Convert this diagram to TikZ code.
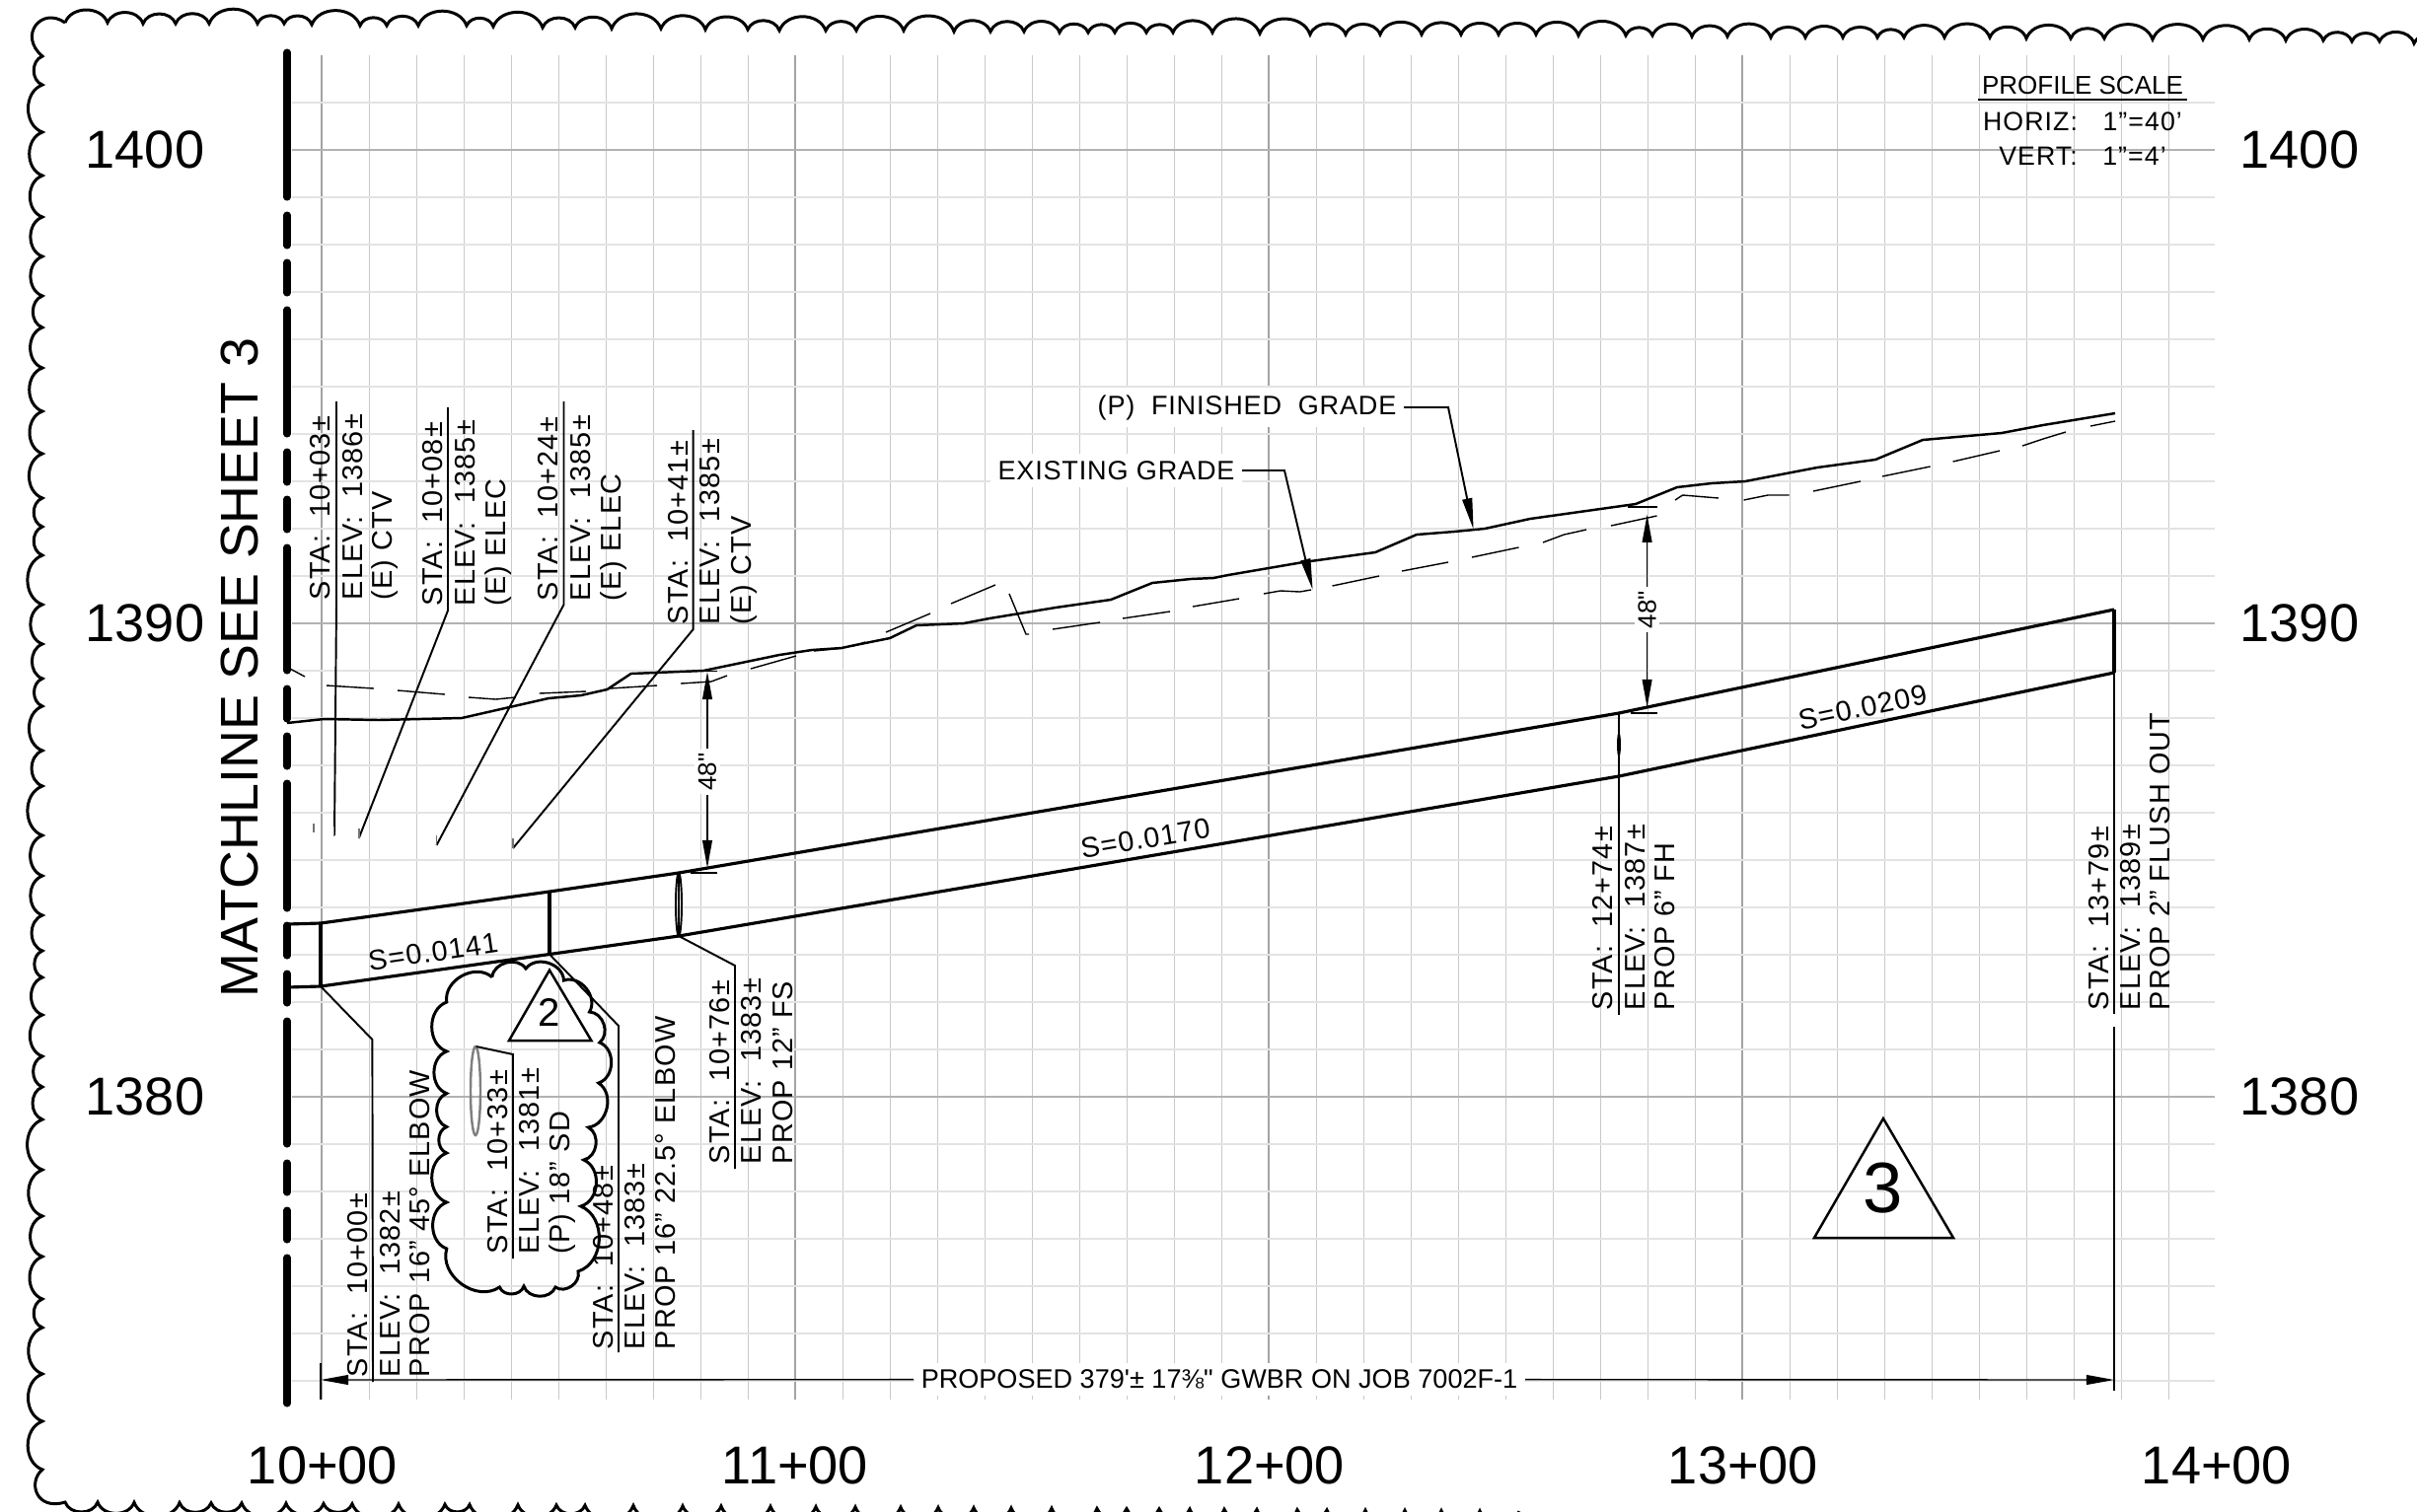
\documentclass[tikz,border=0pt]{standalone}
\usepackage{fontspec}
\usetikzlibrary{arrows.meta}
\newfontfamily\cadfont[LetterSpace=4]{Liberation Sans}
\newfontfamily\leaderfont[LetterSpace=3]{Liberation Sans}
\newfontfamily\axisfont{Liberation Sans}
\tikzset{
  minorh/.style={line width=0.5pt,color=black!11},
  minorv/.style={line width=0.25pt,color=black!21},
  majorh/.style={line width=0.5pt,color=black!30},
  majorv/.style={line width=0.35pt,color=black!36},
  scallop/.style={line width=0.85pt},
  matchline/.style={line width=2pt,line cap=round},
  pipeline/.style={line width=0.9pt},
  grade/.style={line width=0.7pt},
  existing/.style={line width=0.4pt},
  leader/.style={line width=0.55pt},
  dimline/.style={line width=0.4pt},
  tick/.style={line width=0.5pt,color=black!55},
  dimarrow/.style={line width=0.4pt,-{Triangle[length=8pt,width=2.8pt]}},
  vtext/.style={rotate=90,anchor=base west,inner sep=0pt,font=\cadfont\fontsize{8.2}{10}\selectfont},
  slabel/.style={inner sep=0pt,font=\cadfont\fontsize{8.2}{10}\selectfont},
  gradelabel/.style={fill=white,inner sep=2pt,font=\leaderfont\fontsize{7.7}{9}\selectfont},
  scalelabel/.style={anchor=base,inner sep=0pt,font=\cadfont\fontsize{7.6}{9}\selectfont},
  axislabel/.style={inner sep=0pt,font=\axisfont\fontsize{15.4}{18}\selectfont},
  dimlabel/.style={rotate=90,fill=white,inner sep=1pt,font=\axisfont\fontsize{7.4}{9}\selectfont}
}
\begin{document}
\begin{tikzpicture}[x=0.01cm,y=-0.01cm]
  \useasboundingbox (0,0) rectangle (2450,1532);
  \clip (0,0) rectangle (2450,1532);
  % grid
  \foreach \gx in {374,422,470,518,566,614,662,710,758,854,902,950,998,1046,1094,1142,1190,1238,1334,1382,1430,1478,1526,1574,1622,1670,1718,1814,1862,1910,1958,2006,2054,2102,2150,2198}
    \draw[minorv] (\gx,56) -- (\gx,1419);
  \foreach \gx in {326,806,1286,1766}
    \draw[majorv] (\gx,56) -- (\gx,1419);
  \foreach \gy in {104,200,248,296,344,392,440,488,536,584,680,728,776,824,872,920,968,1016,1064,1160,1208,1256,1304,1352,1400}
    \draw[minorh] (296,\gy) -- (2245,\gy);
  \foreach \gy in {152,632,1112}
    \draw[majorh] (296,\gy) -- (2245,\gy);
  % revision border
  \draw[scallop] (66,23)
    foreach \bx/\by in {109/23,145/24,178/24,212/24,261/24,288/24,316/25,365/26,392/26,424/26,473/26,500/27,550/28,583/28,620/29,670/29,715/30,758/30,790/31,837/31,868/31,916/31,967/32,1004/32,1038/32,1074/33,1103/33,1130/33,1162/33,1189/33,1229/33,1277/34,1328/35,1364/35,1399/35,1441/35,1481/35,1519/35,1557/35,1600/36,1648/36,1675/36,1715/37,1751/37,1795/38,1830/38,1868/38,1903/38,1930/38,1971/38,2017/38,2054/39,2099/39,2133/39,2182/40,2233/40,2280/40,2317/41,2355/41,2384/42,2412/42,2447/44,2490/48}
    {to[bend left=70,looseness=1.1] (\bx,\by)};
  \draw[scallop] (66,23) .. controls (42,6) and (18,36) .. (43,57)
    foreach \by in {86,134,178,220,260,300,332,373,417,460,505,534,563,613,653,688,716,761,797,847,888,928,964,991,1029,1071,1102,1135,1186,1233,1274,1317,1346,1393,1441,1490}
    {to[bend right=70,looseness=1.1] (43,\by)}
    .. controls (28,1502) and (36,1532) .. (66,1523)
    foreach \bx in {99,136,182,214,245,290,328,357,404,451,476,525,564,593,642,692,731,781,827,867,913,951,987,1025,1066,1112,1142,1175,1206,1241,1274,1315,1345,1384,1424,1461,1500,1540}
    {to[bend right=70,looseness=1.1] (\bx,{1523+(\bx-100)*0.0064})};
  % matchline
  \foreach \ma/\mb in {53/200,218/249,266/297,314/440,458/489,506/537,555/680,698/729,746/777,794/921,938/969,987/1017,1035/1160,1179/1209,1227/1257,1275/1423}
    \draw[matchline] (291,\ma) -- (291,\mb);
  \node[rotate=90,inner sep=0pt,font=\axisfont\fontsize{15.3}{18}\selectfont] (matchtext) at (243,677) {MATCHLINE SEE SHEET 3};
  % axis numbers
  \draw
    (147,152) node[axislabel] (elevl1400){1400}
    (147,632) node[axislabel] (elevl1390){1390}
    (147,1112) node[axislabel] (elevl1380){1380}
    (2331,152) node[axislabel] (elevr1400){1400}
    (2331,632) node[axislabel] (elevr1390){1390}
    (2331,1112) node[axislabel] (elevr1380){1380}
    (327,1486) node[axislabel] (sta10){10+00}
    (806,1486) node[axislabel] (sta11){11+00}
    (1287,1486) node[axislabel] (sta12){12+00}
    (1767,1486) node[axislabel] (sta13){13+00}
    (2247,1486) node[axislabel] (sta14){14+00};
  % finished grade
  \draw[grade] (291,733) -- (328.5,729) -- (384,730) -- (468,728) -- (556,708) -- (589,705) -- (615.5,699) -- (639.6,683) -- (713,680) -- (790,664) -- (823,659) -- (853,657) -- (867,654) -- (902,647) -- (929,634) -- (977,632) -- (1003,627) -- (1070,616) -- (1126,608) -- (1168,591) -- (1207,587) -- (1230,586) -- (1245,583) -- (1321,570) -- (1394,560) -- (1436,542) -- (1474,539) -- (1505,536) -- (1551,526) -- (1658,511) -- (1700,494) -- (1735,490) -- (1769,488) -- (1842,474) -- (1901,466) -- (1949,446) -- (2029,439) -- (2071,431) -- (2144,419);
  % existing grade
  \begin{scope}[existing]
    \draw (294,678) -- (309,686);
    \draw (331,695) -- (379,698);
    \draw (403,700) -- (451,704);
    \draw (475,707) -- (502.6,709) -- (522.5,707);
    \draw (546.6,703) -- (594,701);
    \draw (618,698) -- (666,695);
    \draw (690,693) -- (721,691) -- (737,685);
    \draw (761,678) -- (807,665);
    \draw (825,660) -- (855,657);
    \draw (865,655) -- (877,651);
    \draw (898,641) -- (943,622);
    \draw (964,612) -- (1009,593);
    \draw (1023,602) -- (1040,643) -- (1043,643);
    \draw (1067,638) -- (1115,631);
    \draw (1138,627) -- (1186,620);
    \draw (1209,615) -- (1256,607);
    \draw (1281,602) -- (1298,599) -- (1317.6,600) -- (1329,598);
    \draw (1350.5,594) -- (1398,584);
    \draw (1421,579) -- (1468,570);
    \draw (1492,565) -- (1539.5,555);
    \draw (1564,550) -- (1585.4,542) -- (1608,537);
    \draw (1633,533) -- (1679.5,523);
    \draw (1698,507) -- (1705.6,502) -- (1742,505);
    \draw (1767.6,507) -- (1792,502) -- (1813.5,502);
    \draw (1838,498) -- (1886,488);
    \draw (1908,483) -- (1956.6,473);
    \draw (1979.6,468) -- (2027,457);
    \draw (2050,452) -- (2071,445) -- (2094,438);
    \draw (2119,432) -- (2144,427);
  \end{scope}
  % pipe
  \coordinate (toppipe0) at (291,937);
  \coordinate (toppipe1) at (325,936);
  \coordinate (toppipe2) at (557,904);
  \coordinate (toppipe3) at (688,885);
  \coordinate (toppipe4) at (1641,723);
  \coordinate (toppipe5) at (2143,618);
  \coordinate (botpipe0) at (291,1001);
  \coordinate (botpipe1) at (325,1000);
  \coordinate (botpipe2) at (557,967.5);
  \coordinate (botpipe3) at (688,949);
  \coordinate (botpipe4) at (1641,787);
  \coordinate (botpipe5) at (2143,682);
  \draw[pipeline] (toppipe0) -- (toppipe1) -- (toppipe2) -- (toppipe3) -- (toppipe4) -- (toppipe5);
  \draw[pipeline] (botpipe0) -- (botpipe1) -- (botpipe2) -- (botpipe3) -- (botpipe4) -- (botpipe5);
  \draw[pipeline] (toppipe1) -- (botpipe1);
  \draw[pipeline] (toppipe2) -- (botpipe2);
  \draw[pipeline] (toppipe5) -- (botpipe5);
  \draw[leader] (toppipe3) -- (botpipe3);
  \draw[leader] (688,917) ellipse (3 and 32);
  \draw[leader] (toppipe4) -- (botpipe4);
  \fill (1641,755) ellipse (2 and 13);
  % utility crossings
  \draw[leader] (341,407) -- (341,613) -- (339,847);
  \draw[leader] (454,413) -- (454,619) -- (363.7,850);
  \draw[leader] (571.5,407) -- (571.5,613) -- (442.5,857);
  \draw[leader] (702.7,436) -- (702.7,638) -- (520,860);
  \draw[tick] (318,835) -- (318,844);
  \draw[tick] (338.5,838) -- (338.5,848);
  \draw[tick] (363.7,840) -- (363.7,850);
  \draw[tick] (442.5,847) -- (442.5,857);
  \draw[tick] (520,850) -- (520,860);
  \draw
    (334,609) node[vtext] (sta1003){STA:\ \ 10+03±}
    (367,609) node[vtext] (elev1003){ELEV:\ \ 1386±}
    (397,609) node[vtext] (type1003){(E) CTV}
    (448,615) node[vtext] (sta1008){STA:\ \ 10+08±}
    (481.5,615) node[vtext] (elev1008){ELEV:\ \ 1385±}
    (512,615) node[vtext] (type1008){(E) ELEC}
    (565.7,610) node[vtext] (sta1024){STA:\ \ 10+24±}
    (598,610) node[vtext] (elev1024){ELEV:\ \ 1385±}
    (629,610) node[vtext] (type1024){(E) ELEC}
    (697.8,634) node[vtext] (sta1041){STA:\ \ 10+41±}
    (729.5,634) node[vtext] (elev1041){ELEV:\ \ 1385±}
    (761,634) node[vtext] (type1041){(E) CTV};
  % pipe fittings
  \draw[leader] (botpipe1) -- (377.4,1054) -- (378,1401);
  \draw[leader] (botpipe2) -- (627,1040) -- (627,1371);
  \draw[leader] (botpipe3) -- (745,979) -- (745,1185);
  \draw[leader] (botpipe4) -- (1641,1029);
  \draw[leader] (botpipe5) -- (2143,1028);
  \draw[dimline] (2143,1041) -- (2143,1410);
  \draw
    (372.5,1397) node[vtext] (sta1000){STA:\ \ 10+00±}
    (405,1397) node[vtext] (elev1000){ELEV:\ \ 1382±}
    (435.6,1397) node[vtext] (prop1000){PROP 16” 45° ELBOW}
    (621,1369) node[vtext] (sta1048){STA:\ \ 10+48±}
    (653.7,1369) node[vtext] (elev1048){ELEV:\ \ 1383±}
    (684.4,1369) node[vtext] (prop1048){PROP 16” 22.5° ELBOW}
    (739,1181) node[vtext] (sta1076){STA:\ \ 10+76±}
    (771,1181) node[vtext] (elev1076){ELEV:\ \ 1383±}
    (803,1181) node[vtext] (prop1076){PROP 12” FS}
    (1634,1025) node[vtext] (sta1274){STA:\ \ 12+74±}
    (1667,1025) node[vtext] (elev1274){ELEV:\ \ 1387±}
    (1697,1025) node[vtext] (prop1274){PROP 6” FH}
    (2137,1025) node[vtext] (sta1379){STA:\ \ 13+79±}
    (2169.6,1025) node[vtext] (elev1379){ELEV:\ \ 1389±}
    (2199.5,1025) node[vtext] (prop1379){PROP 2” FLUSH OUT};
  % revision cloud
  \draw[scallop] (498.8,990.7)
    foreach \cx/\cy in {533/982,571.5/994,597.5/1026,607.8/1057,606.7/1098,596.3/1143,591.7/1176,588.7/1223,586/1289,563/1305,531/1304,506.4/1305,452.8/1266,452.8/1219,452.8/1169,452.8/1142.5,452.8/1108.6,452.8/1066,452.8/1016,498.8/990.7}
    {to[bend left=70,looseness=1.1] (\cx,\cy)};
  \draw[line width=0.7pt,color=black!50] (482,1106) ellipse (5 and 45);
  \draw[leader] (482.7,1061) -- (520,1069) -- (520,1276);
  \draw
    (514,1272) node[vtext] (sta1033){STA:\ \ 10+33±}
    (546.6,1272) node[vtext] (elev1033){ELEV:\ \ 1381±}
    (577,1272) node[vtext] (type1033){(P) 18” SD};
  % revision triangles
  \draw[line width=0.7pt] (557,983.6) -- (599.4,1055) -- (516,1055) -- cycle;
  \node[inner sep=0pt,font=\axisfont\fontsize{11.4}{13}\selectfont] (rev2) at (557,1026) {2};
  \draw[line width=0.7pt] (1909,1134) -- (1980,1255) -- (1839,1255) -- cycle;
  \node[inner sep=0pt,font=\axisfont\fontsize{20.6}{24}\selectfont] (rev3) at (1909,1205) {3};
  % slopes
  \node[slabel,rotate=8.4] (slope1) at (439,965) {S=0.0141};
  \node[slabel,rotate=9.6] (slope2) at (1161,850) {S=0.0170};
  \node[slabel,rotate=11.8] (slope3) at (1888,717) {S=0.0209};
  % cover dimensions
  \node[dimlabel] (cover1) at (717,782.7) {48"};
  \node[dimlabel] (cover2) at (1669.6,618) {48"};
  \draw[dimline] (700,680.7) -- (727,680.7);
  \draw[dimline] (700,885) -- (727,885);
  \draw[dimarrow] (cover1) -- (717,681);
  \draw[dimarrow] (cover1) -- (717,880);
  \draw[dimline] (1650,514) -- (1680,514);
  \draw[dimline] (1652.7,723) -- (1679.5,723);
  \draw[dimarrow] (cover2) -- (1669.6,521.7);
  \draw[dimarrow] (cover2) -- (1669.6,717);
  % grade leaders
  \node[gradelabel] (finished) at (1264,413) {(P)\ \ FINISHED\ \ GRADE};
  \node[gradelabel] (existlbl) at (1131.5,477) {EXISTING GRADE};
  \draw[leader,-{Triangle[length=9pt,width=2.8pt]}] (finished) -- (1468,413) -- (1493.6,536.7);
  \draw[leader,-{Triangle[length=9pt,width=2.8pt]}] (existlbl) -- (1302,477) -- (1330.6,598);
  % overall run
  \node[inner sep=2pt,fill=white,font=\axisfont\fontsize{7.7}{9}\selectfont] (overall) at (1236,1398.5) {PROPOSED 379'± 17⅜" GWBR ON JOB 7002F-1};
  \draw[dimline] (325,1382) -- (325,1419);
  \draw[dimarrow] (overall) -- (325,1399);
  \draw[dimarrow] (overall) -- (2143,1399);
  % scale note
  \node[scalelabel,font=\axisfont\fontsize{7.4}{9}\selectfont] (scalehead) at (2111,95) {PROFILE SCALE};
  \draw[leader] (2005,100.7) -- (2217,100.7);
  \node[scalelabel] (scaleh) at (2111,132) {HORIZ:\ \ \ 1”=40’};
  \node[scalelabel] (scalev) at (2111,167) {VERT:\ \ \ 1”=4’};
\end{tikzpicture}
\end{document}
